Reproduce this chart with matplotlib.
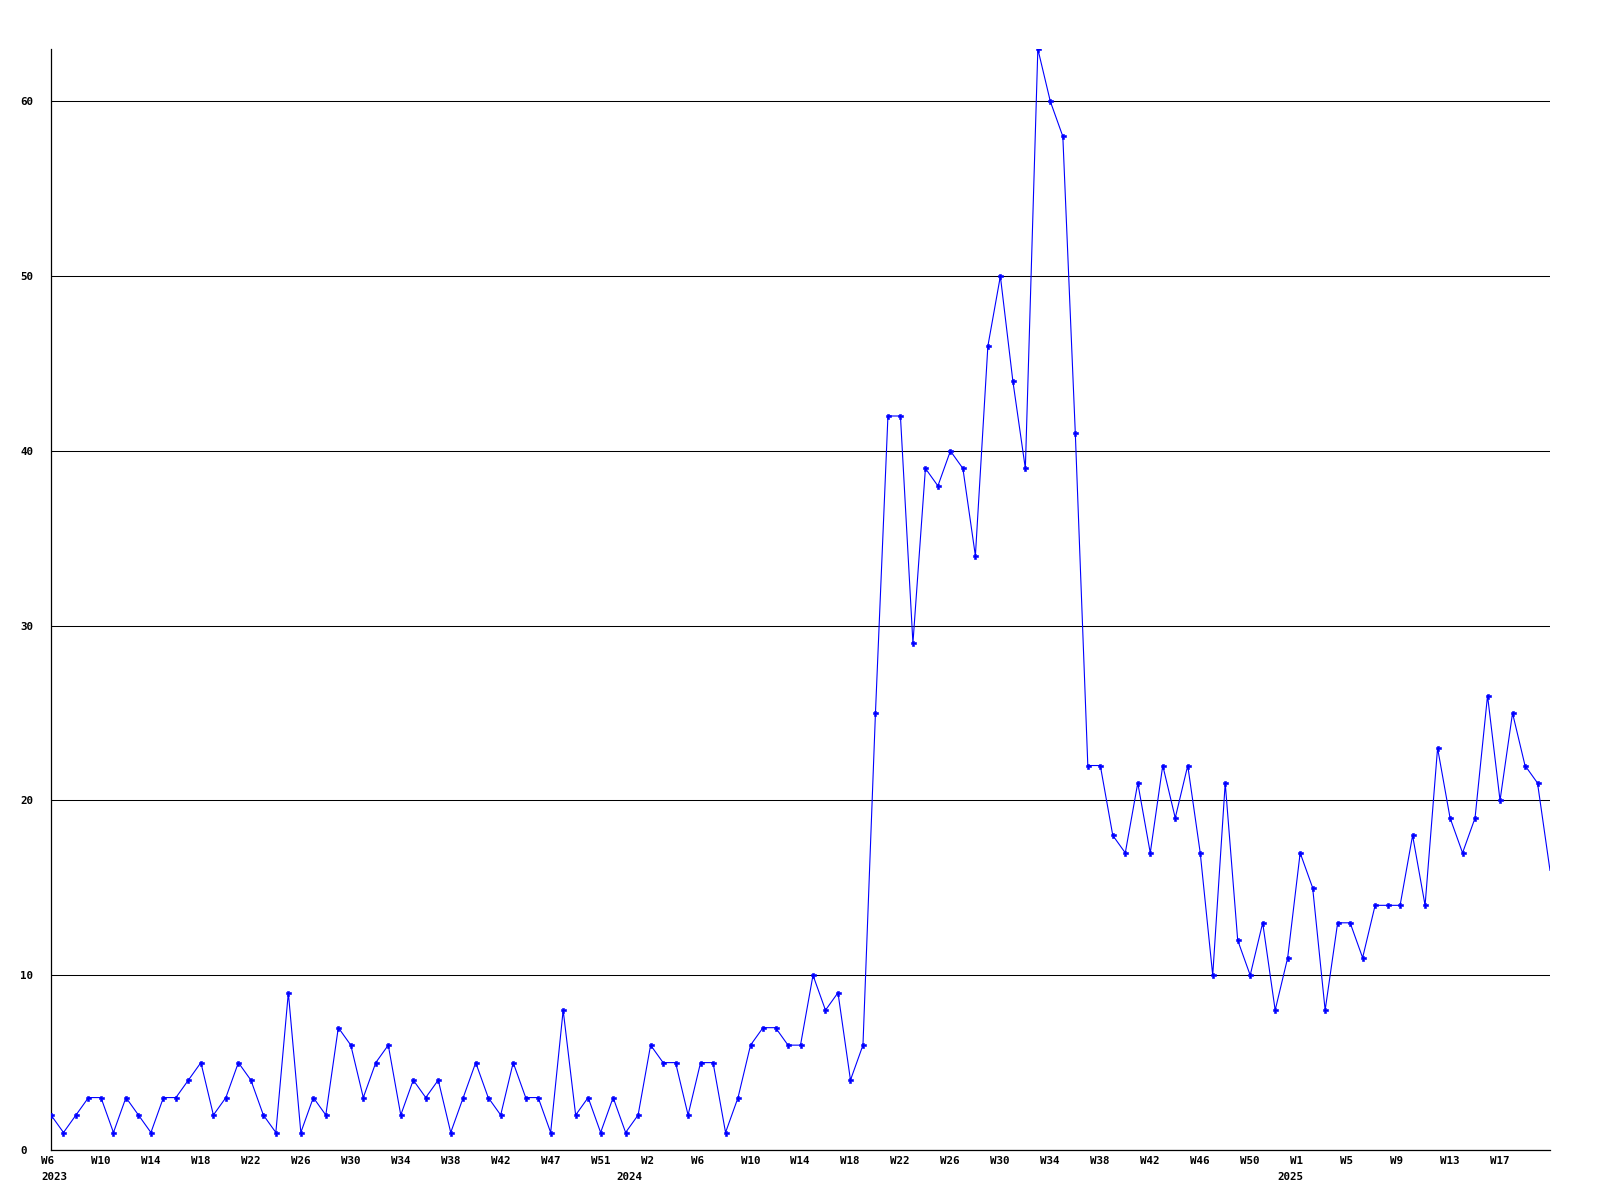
import matplotlib
matplotlib.use('Agg')
import matplotlib.pyplot as plt
from matplotlib.transforms import ScaledTranslation

# weekly counts, W6 2023 .. W21 2025
counts = [2, 1, 2, 3, 3, 1, 3, 2, 1, 3, 3, 4, 5, 2, 3, 5, 4, 2, 1, 9,
          1, 3, 2, 7, 6, 3, 5, 6, 2, 4,
          3, 4, 1, 3, 5, 3, 2, 5, 3, 3, 1, 8, 2, 3, 1, 3, 1, 2, 6, 5,
          5, 2, 5, 5, 1, 3, 6, 7, 7, 6, 6, 10,
          8, 9, 4, 6, 25, 42, 42, 29, 39, 38, 40, 39, 34, 46, 50, 44, 39, 63, 60, 58, 41,
          22, 22, 18, 17, 21, 17, 22, 19, 22, 17, 10, 21, 12, 10, 13, 8, 11, 17, 15, 8,
          13, 13, 11, 14, 14, 14, 18, 14, 23, 19, 17, 19, 26, 20, 25, 22, 21, 16]

# tick labels (every 4th week)
week_labels = ['W6', 'W10', 'W14', 'W18', 'W22', 'W26', 'W30', 'W34', 'W38', 'W42',
               'W47', 'W51', 'W2', 'W6', 'W10', 'W14', 'W18', 'W22', 'W26', 'W30',
               'W34', 'W38', 'W42', 'W46', 'W50', 'W1', 'W5', 'W9', 'W13', 'W17']
years = ['2023', '2024', '2025']
year_pos = [0.3, 46.3, 99.2]

y_ticks = [0, 10, 20, 30, 40, 50, 60]

plt.rcParams['font.family'] = 'DejaVu Sans Mono'
plt.rcParams['font.weight'] = 'bold'

fig = plt.figure(figsize=(16, 12), dpi=100)
ax = fig.add_axes([51 / 1600, 50 / 1200, 1499 / 1600, 1101 / 1200])

x = list(range(len(counts)))
ax.plot(x, counts, color='#0000ff', lw=0.8, marker='P', ms=3.6, mew=0.4,
        markevery=slice(0, len(counts) - 1), zorder=3)

ax.set_xlim(0, len(counts) - 1)
ax.set_ylim(0, max(counts))

# horizontal grid
ax.set_yticks(y_ticks)
ax.set_yticklabels([str(v) for v in y_ticks], fontsize=7.8, fontweight='bold', ha='left')
ax.yaxis.grid(True, color='black', lw=0.75)
ax.set_axisbelow(True)
ax.tick_params(axis='y', length=0, pad=22.3)

ax.set_xticks(range(0, len(counts), 4)[:len(week_labels)])
ax.set_xticklabels(week_labels, fontsize=7.8, fontweight='bold', ha='left')
ax.tick_params(axis='x', length=0, pad=4.5)
shift = ScaledTranslation(-10 / 100, 0, fig.dpi_scale_trans)
for lab in ax.get_xticklabels():
    lab.set_transform(lab.get_transform() + shift)

for yr, pos in zip(years, year_pos):
    ax.annotate(yr, xy=(pos, 0), xycoords=('data', 'axes fraction'),
                xytext=(0, -16), textcoords='offset points',
                ha='center', va='top', fontsize=7.8, fontweight='bold')

for s in ['top', 'right']:
    ax.spines[s].set_visible(False)
for s in ['left', 'bottom']:
    ax.spines[s].set_color('black')
    ax.spines[s].set_linewidth(0.9)

fig.savefig('out.png', dpi=100)
